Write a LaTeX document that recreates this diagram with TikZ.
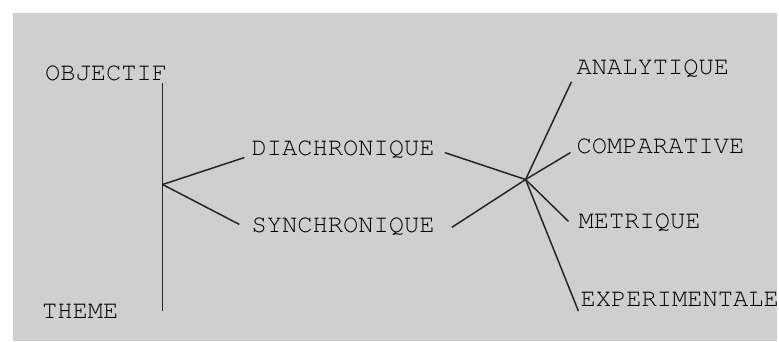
\documentclass[tikz,border=0pt]{standalone}
\usepackage[T1]{fontenc}
\usepackage{courier}
\usetikzlibrary{positioning}

\begin{document}
\begin{tikzpicture}
		[x=1pt,y=-1pt,
		word/.style={inner sep=0pt,anchor=west,text=black,font=\ttfamily\fontsize{25.5}{30}\selectfont},
		branch/.style={draw=black!85,line width=1.5pt}]
		\fill [white] (0,0) rectangle (779,342);
		\fill [black!19] (13,13) rectangle (779,342);

		\node [word] (obj) at (45,73) {OBJECTIF};
		\node [word] (theme) at (42,312) {THEME};
		\node [word] (dia) at (252,150) {DIACHRONIQUE};
		\node [word,on grid] (syn) [below=77pt of dia] {SYNCHRONIQUE};

		\node [word] (ana) at (578,69) {ANALYTIQUE};
		\node [word] (comp) at (578,147) {COMPARATIVE};
		\node [word] (met) at (580,223) {METRIQUE};
		\node [word] (exp) at (582,300) {EXPERIMENTALE};

		\coordinate (top) at (163,83);
		\coordinate (bot) at (163,312);
		\coordinate (hubL) at (163,185);
		\coordinate (hubR) at (527,180);

		\draw [branch] (top) -- (bot);
		\draw [branch] (hubL) -- ([shift={(-7,8)}]dia.west);
		\draw [branch] (hubL) -- ([shift={(-12,-2)}]syn.west);
		\draw [branch] ([shift={(10,3)}]dia.east) -- (hubR);
		\draw [branch] ([shift={(17,1)}]syn.east) -- (hubR);
		\draw [branch] (hubR) -- ([shift={(-5,13)}]ana.west);
		\draw [branch] (hubR) -- ([shift={(-6,6)}]comp.west);
		\draw [branch] (hubR) -- ([shift={(-10,-1)}]met.west);
		\draw [branch] (hubR) -- ([shift={(-2,12)}]exp.west);

	\end{tikzpicture}
\end{document}
